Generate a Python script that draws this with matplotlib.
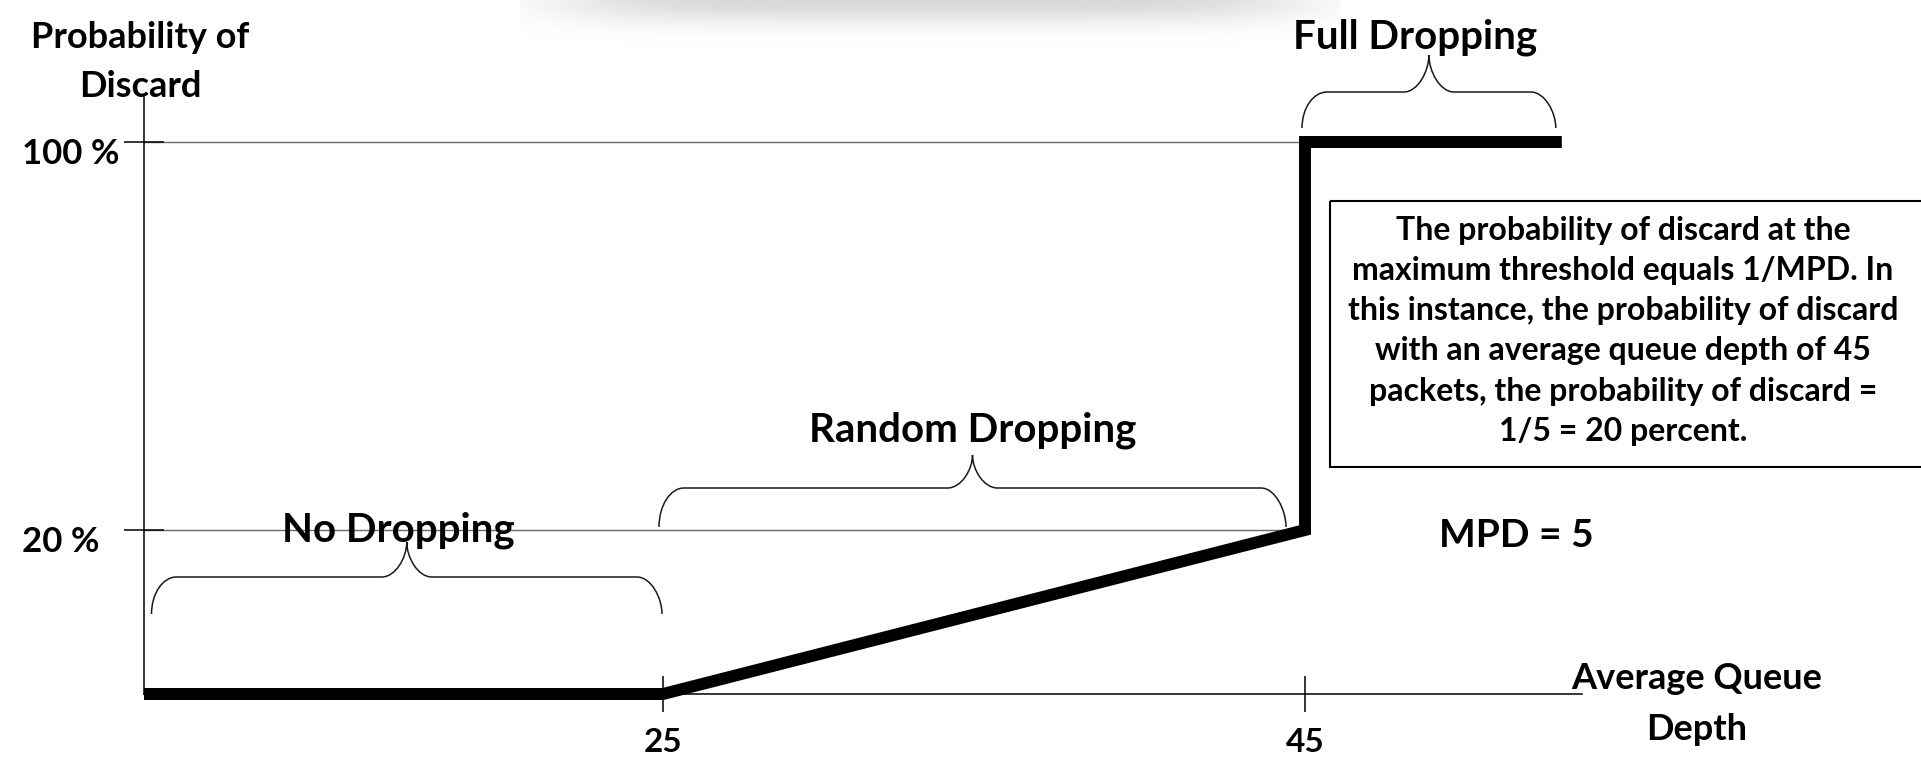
import numpy as np
import matplotlib
matplotlib.use("Agg")
import matplotlib.pyplot as plt
from matplotlib import transforms
from matplotlib.path import Path
from matplotlib.patches import PathPatch, Rectangle

# ---------------- data ----------------
queue_depth = [0, 25, 45, 45, 53]
discard_pct = [0, 0, 20, 100, 100]
x_ticks = [25, 45]
x_tick_labels = ["25", "45"]
y_ticks = [20, 100]
y_tick_labels = ["20 %", "100 %"]
region_names = ["No Dropping", "Random Dropping", "Full Dropping"]
region_spans = [(0, 25), (25, 45), (45, 53)]
mpd_label = "MPD = 5"
note_lines = ["The probability of discard at the",
              "maximum threshold equals 1/MPD. In",
              "this instance, the probability of discard",
              "with an average queue depth of 45",
              "packets, the probability of discard =",
              "1/5 = 20 percent."]
y_title = "Probability of\nDiscard"
x_title = "Average Queue\nDepth"

# ---------------- figure ----------------
W, H, DPI = 1921, 779, 100
plt.rcParams['font.family'] = ['Lato', 'DejaVu Sans']
plt.rcParams['font.weight'] = 'bold'

fig = plt.figure(figsize=(W / DPI, H / DPI), dpi=DPI, facecolor='white')
PIX = transforms.Affine2D().scale(1 / W, -1 / H).translate(0, 1) + fig.transFigure
PT = 72.0 / DPI  # points per pixel

# faint shadow smear at the top (as in the screenshot)
sh_w, sh_h, sh_x0 = 820, 55, 520
xx = np.arange(sh_w)[None, :]
yy = np.arange(sh_h)[:, None]
alpha = 0.30 * np.exp(-((xx - 410) / 370.0) ** 6) * np.exp(-(yy / 22.0) ** 2)
shadow = np.zeros((sh_h, sh_w, 4))
shadow[..., :3] = 0.5
shadow[..., 3] = alpha
fig.figimage(shadow, xo=sh_x0, yo=H - sh_h, origin='upper', zorder=0)

# schematic, piecewise-linear scales (the drawing is not to scale)
X_BREAKS, X_POS = [0, 25, 45], [0, 519, 1161]
Y_BREAKS, Y_POS = [0, 20, 100], [0, 164, 552]


def piecewise(src, dst):
    src = np.asarray(src, float)
    dst = np.asarray(dst, float)
    s0 = (dst[1] - dst[0]) / (src[1] - src[0])
    s1 = (dst[-1] - dst[-2]) / (src[-1] - src[-2])

    def f(v):
        v = np.asarray(v, float)
        out = np.interp(v, src, dst)
        out = np.where(v < src[0], dst[0] + (v - src[0]) * s0, out)
        out = np.where(v > src[-1], dst[-1] + (v - src[-1]) * s1, out)
        return out
    return f


ax_l, ax_b, ax_r, ax_t = 144, 694, 1582, 97
ax = fig.add_axes([ax_l / W, 1 - ax_b / H, (ax_r - ax_l) / W, (ax_b - ax_t) / H])
fx, ix = piecewise(X_BREAKS, X_POS), piecewise(X_POS, X_BREAKS)
fy, iy = piecewise(Y_BREAKS, Y_POS), piecewise(Y_POS, Y_BREAKS)
ax.set_xscale('function', functions=(fx, ix))
ax.set_yscale('function', functions=(fy, iy))
ax.set_xlim(0, float(ix(ax_r - ax_l)))
ax.set_ylim(0, float(iy(ax_b - ax_t)))
ax.patch.set_alpha(0)

for s in ['top', 'right']:
    ax.spines[s].set_visible(False)
for s in ['left', 'bottom']:
    ax.spines[s].set_linewidth(1.1)
    ax.spines[s].set_color('black')

ax.set_xticks(x_ticks, labels=x_tick_labels)
ax.set_yticks(y_ticks, labels=[""] * len(y_ticks))
ax.minorticks_off()
ax.tick_params(axis='x', direction='inout', length=26, width=1.1, pad=11.5,
               labelsize=24, colors='black')
ax.tick_params(axis='y', direction='inout', length=29, width=1.1, colors='black')

# y tick labels: left-aligned in the margin, sitting just below their level
for yv, lab in zip(y_ticks, y_tick_labels):
    ax.annotate(lab, xy=(0, yv), xycoords=('axes fraction', 'data'),
                xytext=(-122 * PT, -22 * PT), textcoords='offset points',
                ha='left', va='baseline', fontsize=25, color='black',
                annotation_clip=False)

# reference lines at the tick levels
ax.hlines(y_ticks, 0, x_ticks[-1], colors='#6a6a6a', linewidth=1.0, zorder=1)

# discard probability curve
ax.plot(queue_depth, discard_pct, color='black', lw=8.6,
        solid_joinstyle='miter', solid_capstyle='butt', clip_on=False, zorder=5)


def ptext(x, y, s, **kw):
    return fig.text(x, y, s, transform=PIX, color='black', **kw)


def brace(x0, x1, yb, yh, yt, r=25, k=0.5523):
    xm = (x0 + x1) / 2
    verts = [
        (x0, yb), (x0, yh + (1 - k) * (yb - yh)), (x0 + r - k * r, yh), (x0 + r, yh),
        (xm - r, yh),
        (xm - r + k * r, yh), (xm, yh - k * (yh - yt)), (xm, yt),
        (xm, yh - k * (yh - yt)), (xm + r - k * r, yh), (xm + r, yh),
        (x1 - r, yh),
        (x1 - r + k * r, yh), (x1, yh + k * (yb - yh)), (x1, yb),
    ]
    codes = [Path.MOVETO, Path.CURVE4, Path.CURVE4, Path.CURVE4,
             Path.LINETO,
             Path.CURVE4, Path.CURVE4, Path.CURVE4,
             Path.CURVE4, Path.CURVE4, Path.CURVE4,
             Path.LINETO,
             Path.CURVE4, Path.CURVE4, Path.CURVE4]
    fig.add_artist(PathPatch(Path(verts, codes), transform=PIX, fill=False,
                             edgecolor='#1a1a1a', lw=1.1))


# brace layout per region: (inset left px, inset right px, end y, bar y, tip y)
brace_layout = [(7.5, 1, 614, 577, 542), (-4, 19, 527, 488, 455), (-3, 6, 128, 92, 55)]
label_layout = [(398, 542), (973, 442), (1415, 48)]
for (lo, hi), (il, ir, yb, yh, yt), name, (tx, ty) in zip(region_spans, brace_layout,
                                                         region_names, label_layout):
    x0 = ax_l + float(fx(lo)) + il
    x1 = ax_l + float(fx(hi)) - ir
    brace(x0, x1, yb, yh, yt)
    ptext(tx, ty, name, ha='center', va='baseline', fontsize=29, zorder=6)

# axis titles (anchored on the baseline of their last line)
ptext(140, 97, y_title, ha='center', va='baseline', fontsize=26,
      linespacing=1.61, multialignment='center')
ptext(1697, 740, x_title, ha='center', va='baseline', fontsize=26,
      linespacing=1.65, multialignment='center')

# MPD label
ptext(1516, 547, mpd_label, ha='center', va='baseline', fontsize=28)

# explanation box
fig.add_artist(Rectangle((1330, 201), 640, 266, transform=PIX, fill=False,
                         edgecolor='black', lw=1.5))
ptext(1623, 441, "\n".join(note_lines), ha='center', va='baseline', fontsize=23,
      linespacing=1.47, multialignment='center')

fig.savefig("out.png", dpi=DPI, facecolor='white')
